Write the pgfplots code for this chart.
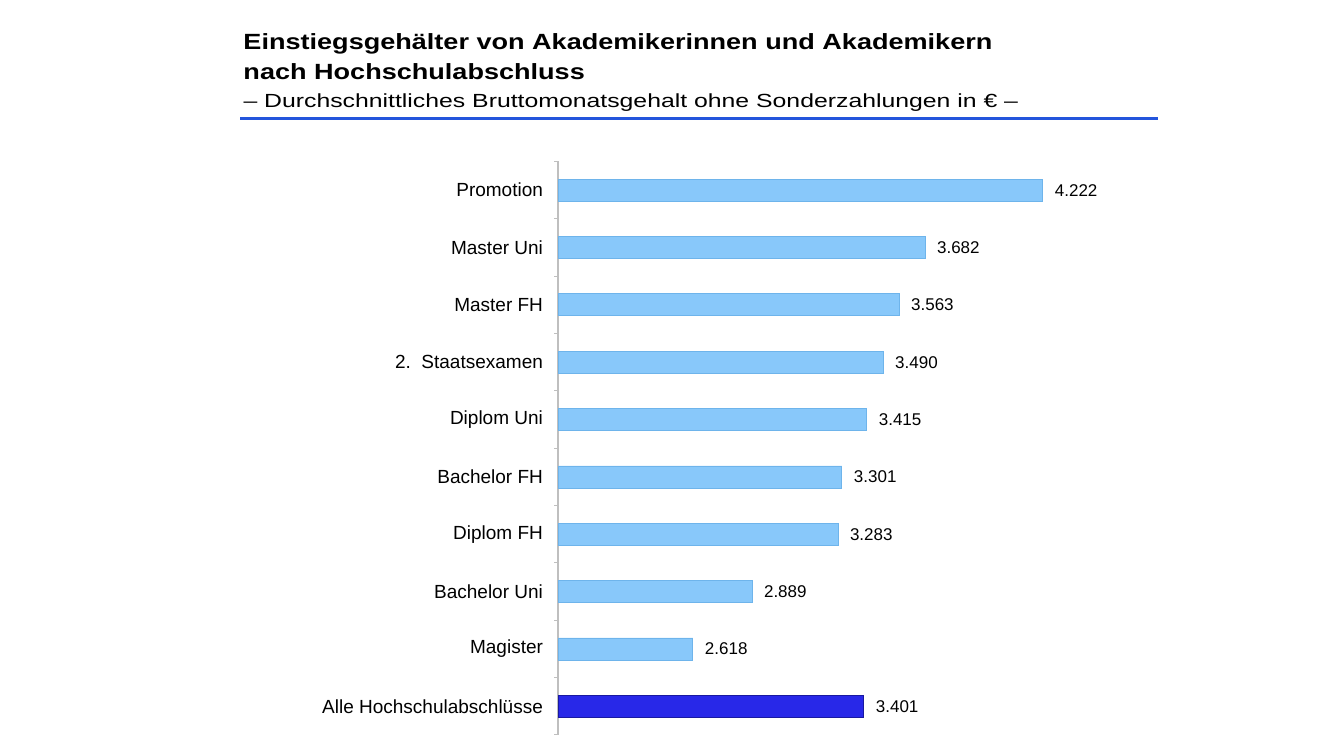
\documentclass[border=0pt]{standalone}
\usepackage{fontspec}
\setmainfont{Liberation Sans}
\usepackage{pgfplots}
\pgfplotsset{compat=1.18}
\definecolor{barlight}{RGB}{136,200,250}
\definecolor{barlightedge}{RGB}{110,180,235}
\definecolor{bardark}{RGB}{40,40,232}
\definecolor{bardarkedge}{RGB}{25,25,160}
\definecolor{rule}{RGB}{35,85,220}
\pgfplotstableread{
y val
9 4222
8 3682
7 3563
6 3490
5 3415
4 3301
3 3283
2 2889
1 2618
}\dataA
\pgfplotstableread{
y val
0 3401
}\dataB
\begin{document}
\begin{tikzpicture}
\path[use as bounding box] (0,0) rectangle (660pt,371pt);
\begin{axis}[
  at={(279pt,3.5pt)}, anchor=south west,
  scale only axis, width=272.75pt, height=286.75pt,
  xbar, bar width=11pt, bar shift=0pt,
  xmin=2000, xmax=4500, ymin=-0.5, ymax=9.5,
  axis x line=none,
  axis y line*=left,
  axis line style={-, draw=black!25, line width=0.6pt},
  ytick={0,...,9},
  yticklabels={Alle Hochschulabschlüsse,Magister,Bachelor Uni,Diplom FH,Bachelor FH,Diplom Uni,{2.\ \ Staatsexamen},Master FH,Master Uni,Promotion},
  major tick length=0pt,
  minor ytick={-0.5,0.5,...,9.5},
  minor tick length=2pt,
  tick align=outside,
  minor tick style={draw=black!25, line width=0.5pt},
  yticklabel style={font=\fontsize{9.5}{10}\selectfont, xshift=-4pt},
  point meta=x,
  nodes near coords={\pgfmathprintnumber[1000 sep={.}]{\pgfplotspointmeta}},
  nodes near coords style={font=\fontsize{8.5}{10}\selectfont, anchor=west, xshift=2.5pt, /pgf/number format/assume math mode=true},
  /pgf/number format/assume math mode=true,
]
\addplot[fill=barlight, draw=barlightedge, line width=0.4pt] table[x=val,y=y]{\dataA};
\addplot[fill=bardark, draw=bardarkedge, line width=0.5pt] table[x=val,y=y]{\dataB};
\end{axis}
\node[anchor=base west, inner sep=0pt, xscale=1.23, transform shape, font=\fontsize{11}{13}\selectfont\bfseries] at (121.5pt,346pt) {Einstiegsgehälter von Akademikerinnen und Akademikern};
\node[anchor=base west, inner sep=0pt, xscale=1.23, transform shape, font=\fontsize{11}{13}\selectfont\bfseries] at (121.5pt,331pt) {nach Hochschulabschluss};
\node[anchor=base west, inner sep=0pt, xscale=1.305, transform shape, font=\fontsize{9.5}{12}\selectfont] at (121.5pt,317pt) {– Durchschnittliches Bruttomonatsgehalt ohne Sonderzahlungen in € –};
\draw[rule, line width=1.5pt] (120pt,311.75pt) -- (579pt,311.75pt);
\end{tikzpicture}
\end{document}
